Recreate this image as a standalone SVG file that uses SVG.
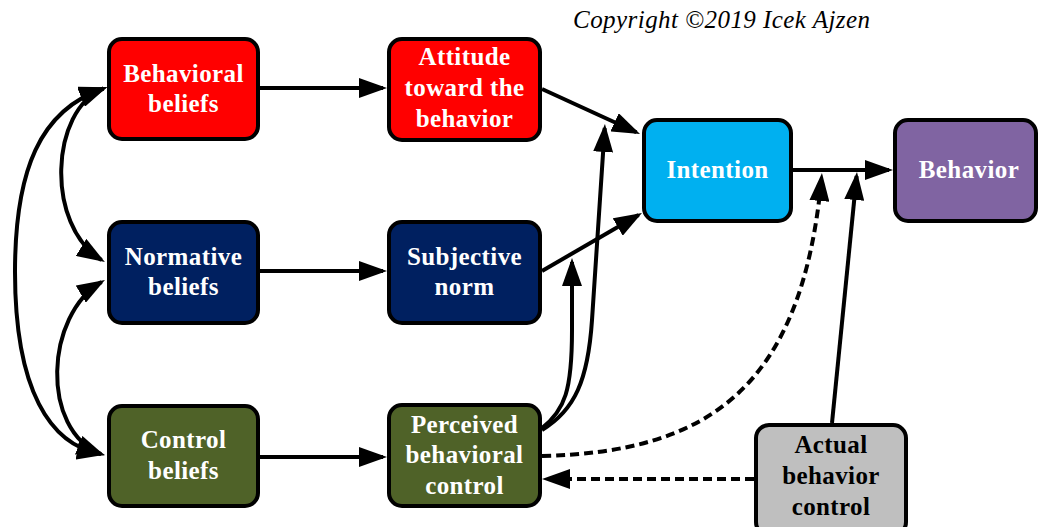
<svg xmlns="http://www.w3.org/2000/svg" width="1038" height="527" viewBox="0 0 1038 527">
  <style>
    .box { stroke: #000; stroke-width: 4; }
    .lbl { font-family: "Liberation Serif", "Times New Roman", serif; font-weight: bold; font-size: 25px; letter-spacing: 0.4px; text-anchor: middle; fill: #fff; }
    .dark { fill: #000; }
    .link { fill: none; stroke: #000; stroke-width: 4; }
    .dash { stroke-dasharray: 9 5; }
    .note { font-family: "Liberation Serif", "Times New Roman", serif; font-style: italic; font-size: 25px; fill: #000; }
  </style>
  <defs>
    <marker id="arrow" markerUnits="userSpaceOnUse" markerWidth="28" markerHeight="20" refX="24" refY="10" orient="auto-start-reverse" viewBox="0 0 28 20">
      <path d="M0,0 L28,10 L0,20 Z" fill="#000"/>
    </marker>
  </defs>

  <rect width="1038" height="527" fill="#fff"/>

  <text class="note" x="573" y="28" textLength="297" lengthAdjust="spacing">Copyright ©2019 Icek Ajzen</text>

  <!-- connectors -->
  <g id="connectors">
    <!-- belief -> component -->
    <path class="link" d="M260,88 L383,88" marker-end="url(#arrow)"/>
    <path class="link" d="M260,271 L383,271" marker-end="url(#arrow)"/>
    <path class="link" d="M260,457 L383,457" marker-end="url(#arrow)"/>
    <!-- components -> intention -->
    <path class="link" d="M542,89 L636.4,132.3" marker-end="url(#arrow)"/>
    <path class="link" d="M542,271 L638.5,215" marker-end="url(#arrow)"/>
    <path class="link" d="M542,430 C575,410 588,380 592,320 L604.7,128" marker-end="url(#arrow)"/>
    <path class="link" d="M542,428 C565,410 572,390 572,330 L572,262" marker-end="url(#arrow)"/>
    <!-- intention -> behavior -->
    <path class="link" d="M793,170 L889,170" marker-end="url(#arrow)"/>
    <!-- control paths -->
    <path class="link dash" d="M542,456 C705,452 802,392 821.6,177" marker-end="url(#arrow)"/>
    <path class="link" d="M832,423 L856.6,176" marker-end="url(#arrow)"/>
    <path class="link dash" d="M754,479 L546,479" marker-end="url(#arrow)"/>
    <!-- correlations among beliefs -->
    <path class="link" d="M103.5,88.5 C50,110 45,225 101.5,260" marker-start="url(#arrow)" marker-end="url(#arrow)"/>
    <path class="link" d="M101.5,282 C45,315 40,430 101,454" marker-start="url(#arrow)" marker-end="url(#arrow)"/>
    <path class="link" d="M103.5,88.5 C40,110 15,170 15,272 C15,390 50,445 101,454" marker-start="url(#arrow)" marker-end="url(#arrow)"/>
  </g>

  <g id="behavioral-beliefs">
    <rect class="box" x="109" y="39" width="149" height="100" rx="13" fill="#FF0000"/>
    <text class="lbl" x="183.5" y="82">Behavioral</text>
    <text class="lbl" x="183.5" y="112">beliefs</text>
  </g>
  <g id="normative-beliefs">
    <rect class="box" x="109" y="222" width="149" height="101" rx="13" fill="#002060"/>
    <text class="lbl" x="183.5" y="265">Normative</text>
    <text class="lbl" x="183.5" y="295">beliefs</text>
  </g>
  <g id="control-beliefs">
    <rect class="box" x="109" y="406" width="149" height="100" rx="13" fill="#4F6228"/>
    <text class="lbl" x="183.5" y="448">Control</text>
    <text class="lbl" x="183.5" y="479">beliefs</text>
  </g>

  <g id="attitude">
    <rect class="box" x="389" y="39" width="151" height="101" rx="13" fill="#FF0000"/>
    <text class="lbl" x="464.5" y="65">Attitude</text>
    <text class="lbl" x="464.5" y="96">toward the</text>
    <text class="lbl" x="464.5" y="127">behavior</text>
  </g>
  <g id="subjective-norm">
    <rect class="box" x="389" y="222" width="151" height="101" rx="13" fill="#002060"/>
    <text class="lbl" x="464.5" y="265">Subjective</text>
    <text class="lbl" x="464.5" y="295">norm</text>
  </g>
  <g id="perceived-control">
    <rect class="box" x="389" y="405" width="151" height="101" rx="13" fill="#4F6228"/>
    <text class="lbl" x="464.5" y="433">Perceived</text>
    <text class="lbl" x="464.5" y="463">behavioral</text>
    <text class="lbl" x="464.5" y="494">control</text>
  </g>

  <g id="intention">
    <rect class="box" x="644" y="120" width="147" height="101" rx="13" fill="#00B0F0"/>
    <text class="lbl" x="717.5" y="178">Intention</text>
  </g>
  <g id="behavior">
    <rect class="box" x="895" y="120" width="141" height="101" rx="13" fill="#8064A2"/>
    <text class="lbl" x="969" y="178">Behavior</text>
  </g>
  <g id="actual-control">
    <rect class="box" x="756" y="425" width="150" height="110" rx="13" fill="#BFBFBF"/>
    <text class="lbl dark" x="831" y="453">Actual</text>
    <text class="lbl dark" x="831" y="484">behavior</text>
    <text class="lbl dark" x="831" y="515">control</text>
  </g>
</svg>
